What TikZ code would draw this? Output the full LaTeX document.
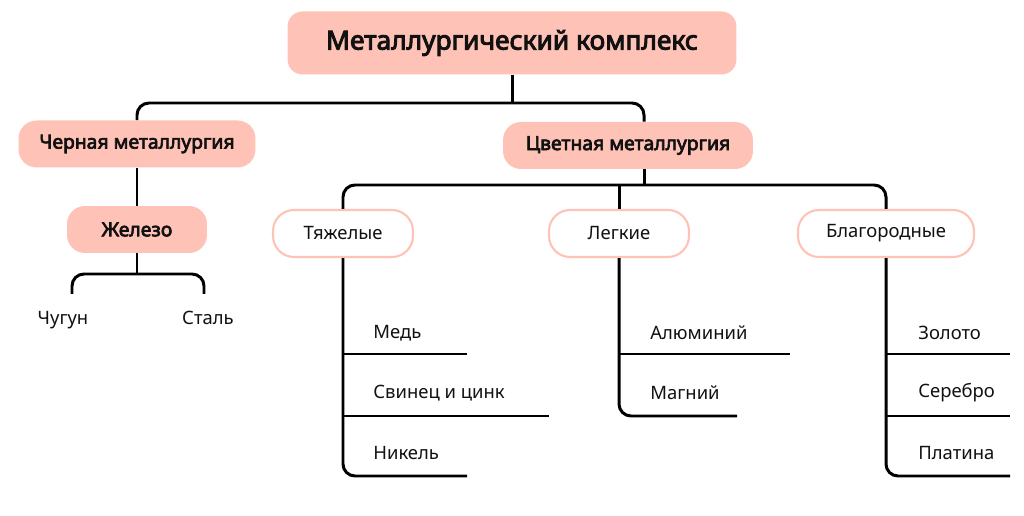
\documentclass[tikz,border=0pt]{standalone}
\usepackage{fontspec}
\setmainfont{Noto Sans}[AutoFakeBold=3.5]
\definecolor{salmon}{HTML}{FFC2B6}
\definecolor{ink}{HTML}{111111}
\begin{document}
\begin{tikzpicture}[
  x=0.02cm, y=-0.02cm,
  every node/.style = {text=ink, inner sep=0pt},
  mainbox/.style = {fill=salmon, rounded corners=0.3cm,
    font=\bfseries\fontsize{15}{17}\selectfont},
  groupbox/.style = {fill=salmon, rounded corners=0.36cm,
    minimum height=0.94cm, font=\bfseries\fontsize{11}{13}\selectfont},
  kindbox/.style = {fill=white, draw=salmon, line width=1.2pt,
    rounded corners=0.42cm, minimum width=2.8cm, minimum height=0.94cm,
    font=\fontsize{10.5}{12}\selectfont},
  leaf/.style = {anchor=west, font=\fontsize{10.5}{12}\selectfont},
  tip/.style = {anchor=base, font=\fontsize{10.5}{12}\selectfont},
  link/.style = {draw=black, line width=1.7pt, rounded corners=0.24cm}]
\useasboundingbox (0,0) rectangle (1024,516);
% boxes
\node[mainbox, minimum width=8.98cm, minimum height=1.26cm] (top) at (512,43) {Металлургический комплекс};
\node[groupbox, minimum width=4.74cm] (black) at (137,144) {Черная металлургия};
\node[groupbox, minimum width=5.0cm] (color) at (628,145.5) {Цветная металлургия};
\node[groupbox, minimum width=2.8cm] (iron) at (137,229.5) {Железо};
\node[kindbox] (heavy) at (343,233.5) {Тяжелые};
\node[kindbox] (light) at (619,233.5) {Легкие};
\node[kindbox, minimum width=3.52cm] (noble) at (886,233.5) {Благородные};
% leaves
\node[tip] (pig) at (63,325) {Чугун};
\node[tip] (steel) at (208,325) {Сталь};
\node[leaf] (copper) at (373,333) {Медь};
\node[leaf] (lead) at (373,393) {Свинец и цинк};
\node[leaf] (nickel) at (373,453) {Никель};
\node[leaf] (alu) at (650,333) {Алюминий};
\node[leaf] (magn) at (650,393) {Магний};
\node[leaf] (gold) at (918,333) {Золото};
\node[leaf] (silver) at (918,393) {Серебро};
\node[leaf] (plat) at (918,453) {Платина};
% junctions and line ends
\coordinate (tj) at (512,103);
\coordinate (cj) at (644,185);
\coordinate (ij) at (137,274);
\coordinate (pj) at (72,294);
\coordinate (sj) at (204,294);
\coordinate (h1) at (467,354);
\coordinate (h2) at (549,416);
\coordinate (h3) at (467,476);
\coordinate (l1) at (790,354);
\coordinate (l2) at (737,416);
\coordinate (n1) at (1010,354);
\coordinate (n2) at (1010,416);
\coordinate (n3) at (1010,476);
% connectors
\draw[link] (top.south) -- (tj);
\draw[link] (black.north) |- (tj) -| (color.north -| cj);
\draw[link] (color.south -| cj) -- (cj);
\draw[link] (heavy.north) |- (cj) -| (noble.north);
\draw[link] (light.north) -- (light.north |- cj);
\draw[link] (black.south) -- (iron.north);
\draw[link] (iron.south) -- (ij);
\draw[link] (pj) |- (ij) -| (sj);
\draw[link] (heavy.south) |- (h3);
\draw[link] (heavy.south |- h1) -- (h1);
\draw[link] (heavy.south |- h2) -- (h2);
\draw[link] (light.south) |- (l2);
\draw[link] (light.south |- l1) -- (l1);
\draw[link] (noble.south) |- (n3);
\draw[link] (noble.south |- n1) -- (n1);
\draw[link] (noble.south |- n2) -- (n2);
\end{tikzpicture}
\end{document}
